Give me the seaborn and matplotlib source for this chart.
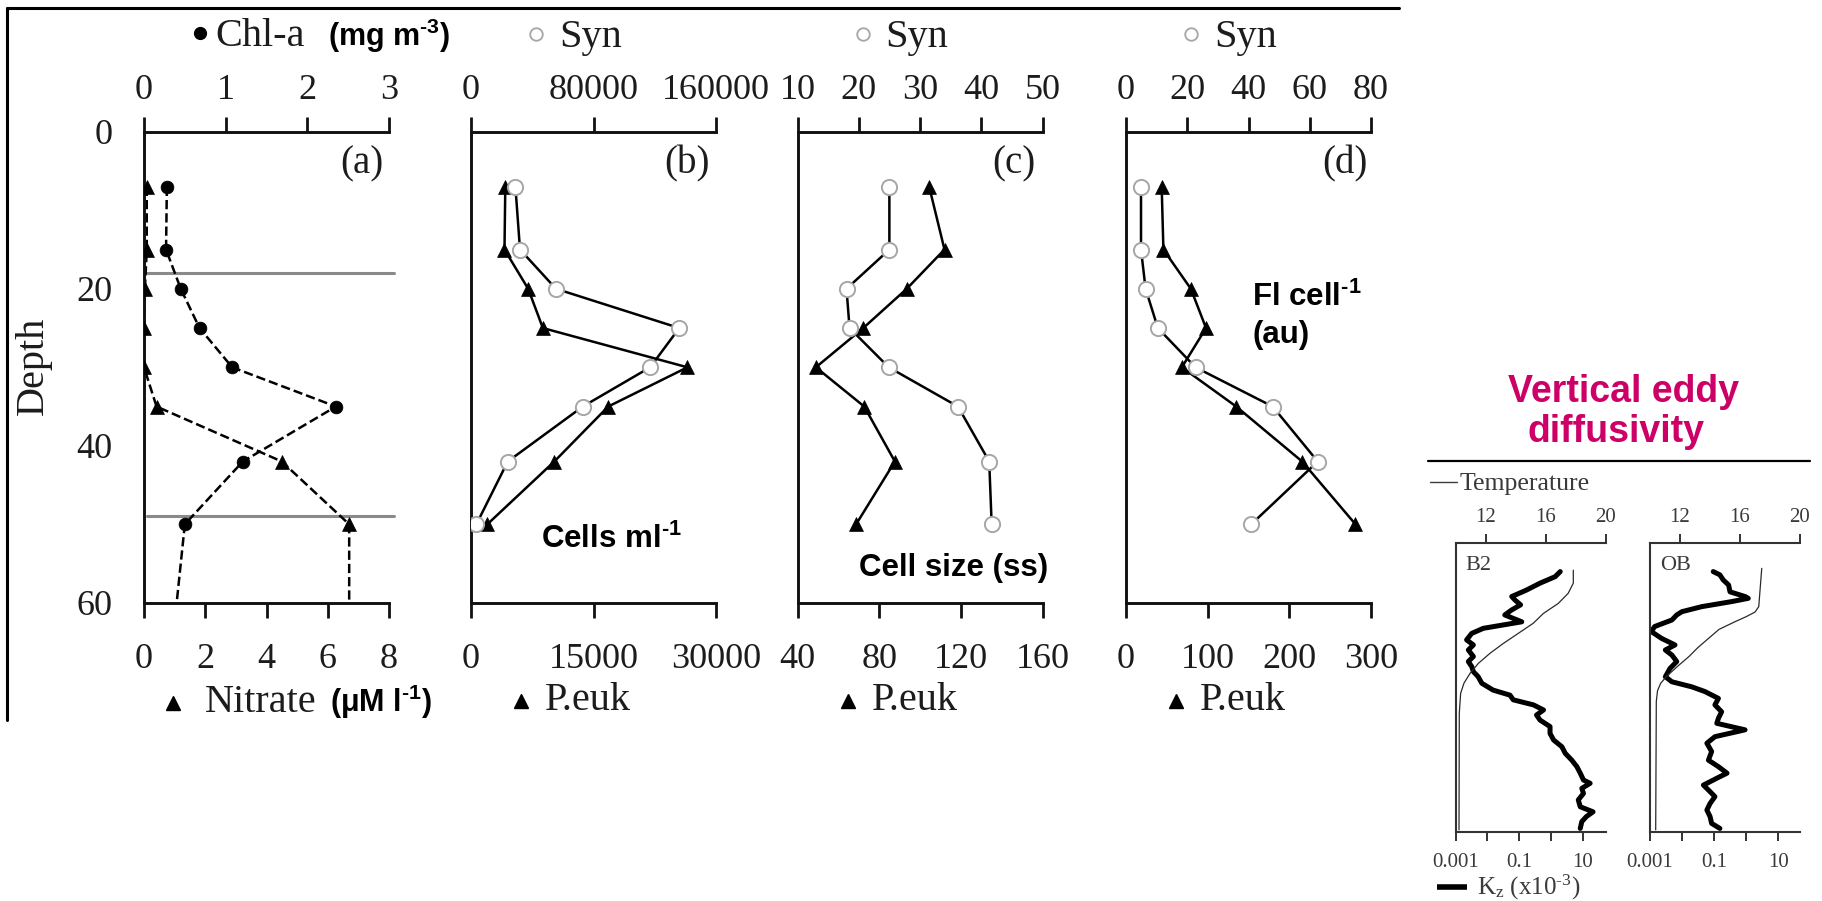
import matplotlib
matplotlib.use("Agg")
import matplotlib.pyplot as plt
from matplotlib.lines import Line2D
import numpy as np
import seaborn as sns

# ---------------------------------------------------------------------------
# Data
# ---------------------------------------------------------------------------
# Sampling depths (m) for the flow-cytometry / pigment profiles
depth = [7, 15, 20, 25, 30, 35, 42, 50]
# Panel (a): chlorophyll and nitrate (last value at 60 m carries the line to the bottom)
depth_a = [7, 15, 20, 25, 30, 35, 42, 50, 60]
chl_a = [0.28, 0.27, 0.45, 0.68, 1.08, 2.35, 1.21, 0.50, 0.40]
nitrate = [0.09, 0.09, 0.03, 0.0, 0.0, 0.41, 4.5, 6.7, 6.7]
mixing_depths = [18, 49]

# Panel (b): abundance (cells ml-1)
syn_cells = [29000, 32000, 55500, 136000, 117000, 73000, 24000, 3500]
peuk_cells = [4200, 4100, 7000, 8800, 26500, 16800, 10200, 2000]

# Panel (c): cell size (side scatter)
syn_size = [25.0, 25.0, 18.0, 18.5, 24.9, 36.2, 41.3, 41.7]
peuk_size = [104.5, 112.0, 93.5, 72.2, 49.0, 72.7, 87.7, 68.7]

# Panel (d): fluorescence per cell (au)
syn_fl = [4.9, 4.9, 6.4, 10.4, 22.7, 47.9, 62.6, 40.9]
peuk_fl = [43.7, 45.8, 79.4, 98.0, 68.4, 135.0, 215.7, 281.0]

# Axis ranges / ticks of the four profile panels
top_ticks = [[0, 1, 2, 3], [0, 80000, 160000], [10, 20, 30, 40, 50], [0, 20, 40, 60, 80]]
bottom_ticks = [[0, 2, 4, 6, 8], [0, 15000, 30000], [40, 80, 120, 160], [0, 100, 200, 300]]
panel_tags = ["(a)", "(b)", "(c)", "(d)"]
depth_ticks = [0, 20, 40, 60]

# Vertical eddy diffusivity profiles (Kz, x10^-3) and temperature, stations B2 and OB
kz_depth_b2 = [8.0, 9.4, 11.2, 13.1, 14.9, 15.9, 17.2, 18.6, 20.0, 21.9, 23.7, 25.1,
               26.9, 28.3, 29.7, 31.5, 32.9, 34.3, 35.7, 37.1, 38.9, 40.8, 42.2, 43.5,
               44.9, 46.3, 47.7, 49.1, 50.9, 52.8, 54.6, 56.5, 58.3, 60.2, 62.0, 63.8,
               65.7, 66.6, 68.0, 69.4, 71.2, 73.1, 74.5, 75.8, 77.2, 79.1]
kz_b2 = [1.95, 1.35, 0.45, 0.17, 0.058, 0.074, 0.11, 0.058, 0.035, 0.12, 0.0074, 0.0032,
         0.0022, 0.0036, 0.0025, 0.0036, 0.0025, 0.0032, 0.0036, 0.0051, 0.0066, 0.015,
         0.051, 0.065, 0.28, 0.58, 0.35, 0.45, 0.93, 0.93, 1.2, 2.2, 2.8, 4.5, 6.5, 8.3,
         10.5, 17.0, 9.3, 10.5, 7.2, 8.3, 21.0, 13.0, 9.3, 8.3]
kz_depth_ob = [8.0, 8.9, 10.3, 11.7, 13.6, 14.9, 15.4, 16.3, 17.7, 19.1, 20.0, 21.4,
               23.2, 24.6, 26.5, 28.3, 29.7, 31.1, 32.9, 34.8, 37.1, 38.5, 39.9, 41.2,
               43.1, 44.9, 46.8, 48.6, 50.0, 51.8, 53.7, 55.5, 57.8, 60.2, 62.0, 63.8,
               65.2, 67.1, 68.9, 70.3, 72.2, 74.0, 75.8, 77.7, 79.1]
kz_ob = [0.093, 0.15, 0.19, 0.28, 0.31, 0.91, 1.15, 0.35, 0.041, 0.0098, 0.0068, 0.0048,
         0.0014, 0.0011, 0.0023, 0.006, 0.003, 0.0048, 0.0068, 0.0042, 0.003, 0.0048,
         0.02, 0.051, 0.135, 0.105, 0.17, 0.135, 0.12, 0.91, 0.105, 0.059, 0.083, 0.066,
         0.135, 0.25, 0.12, 0.046, 0.074, 0.105, 0.074, 0.059, 0.074, 0.083, 0.15]
temp_depth_b2 = [7.6, 11.2, 14.0, 16.8, 19.6, 22.3, 25.1, 27.9, 30.6, 33.4, 36.2, 38.9,
                 41.7, 47.2, 79.5]
temp_b2 = [17.84, 17.84, 17.5, 16.84, 15.84, 15.17, 14.17, 13.17, 12.29, 11.51, 10.95,
           10.55, 10.33, 10.24, 10.22]
temp_depth_ob = [7.1, 17.7, 19.2, 20.5, 22.0, 24.0, 26.5, 29.0, 31.5, 34.0, 37.0, 39.0,
                 41.0, 44.0, 79.5]
temp_ob = [17.45, 17.25, 17.0, 16.4, 15.6, 14.6, 13.9, 13.2, 12.6, 11.9, 11.1, 10.7,
           10.5, 10.42, 10.38]
kz_ticks = [1e-3, 1e-2, 1e-1, 1, 10]
kz_tick_labels = ["0.001", "", "0.1", "", "10"]
temp_ticks = [12, 16, 20]
station_names = ["B2", "OB"]

# ---------------------------------------------------------------------------
# Style
# ---------------------------------------------------------------------------
sns.set_style("white")
plt.rcParams.update({
    "font.family": ["Liberation Serif", "DejaVu Serif"],
    "mathtext.default": "regular",
    "axes.linewidth": 2.0,
})
SERIF = ["Liberation Serif", "DejaVu Serif"]
SANS = ["Liberation Sans", "DejaVu Sans"]
INK = "#1c1c1c"
GREY_EDGE = "#a6a6a6"
MAGENTA = "#CC0066"
HY = "\u2010"  # short hyphen for the unit exponents

W, H = 1822, 901
fig = plt.figure(figsize=(W / 100, H / 100), dpi=100)
fig.patch.set_facecolor("white")


def fx(x):
    return x / W


def fy(y):
    return 1 - y / H


def box(left, top, right, bottom):
    return [fx(left), fy(bottom), (right - left) / W, (bottom - top) / H]


def fig_line(xs, ys, **kw):
    fig.add_artist(Line2D([fx(v) for v in xs], [fy(v) for v in ys],
                          transform=fig.transFigure, **kw))


def fig_marker(x, y, **kw):
    fig.add_artist(Line2D([fx(x)], [fy(y)], transform=fig.transFigure,
                          linestyle="none", **kw))


def fig_text(x, y, s, **kw):
    fig.text(fx(x), fy(y), s, **kw)


# ---------------------------------------------------------------------------
# Four depth-profile panels
# ---------------------------------------------------------------------------
panel_left = [144, 471, 797.5, 1126]
panel_w = 245
panel_top, panel_bottom = 131.8, 602.8

top_series = [chl_a, syn_cells, syn_size, syn_fl]
bottom_series = [nitrate, peuk_cells, peuk_size, peuk_fl]
tag_right = [383, 710, 1035, 1368]

for i, left in enumerate(panel_left):
    ax = fig.add_axes(box(left, panel_top, left + panel_w, panel_bottom))
    axt = ax.twiny()

    if i == 0:
        # dashed chlorophyll / nitrate profiles, markers at the sampled depths
        sns.lineplot(x=nitrate, y=depth_a, ax=ax, orient="y", estimator=None,
                     color="black", linestyle="--", linewidth=1.8)
        sns.scatterplot(x=nitrate[:-1], y=depth_a[:-1], ax=ax, marker="^", s=100,
                        color="black", edgecolor="black", linewidth=0.5, zorder=4)
        sns.lineplot(x=chl_a, y=depth_a, ax=axt, orient="y", estimator=None,
                     color="black", linestyle="--", linewidth=1.8)
        sns.scatterplot(x=chl_a[:-1], y=depth_a[:-1], ax=axt, marker="o", s=85,
                        color="black", edgecolor="black", linewidth=0.5, zorder=4)
        for d in mixing_depths:
            ax.axhline(d, xmin=0.012, xmax=1.02, color="#8a8a8a", linewidth=2.2,
                       clip_on=False, zorder=1)
    else:
        sns.lineplot(x=bottom_series[i], y=depth, ax=ax, orient="y", estimator=None,
                     color="black", linewidth=1.8)
        sns.scatterplot(x=bottom_series[i], y=depth, ax=ax, marker="^", s=100,
                        color="black", edgecolor="black", linewidth=0.5, zorder=4)
        sns.lineplot(x=top_series[i], y=depth, ax=axt, orient="y", estimator=None,
                     color="black", linewidth=1.8)
        sns.scatterplot(x=top_series[i], y=depth, ax=axt, marker="o", s=120,
                        color="white", edgecolor=GREY_EDGE, linewidth=1.4, zorder=4)

    bt, tt = bottom_ticks[i], top_ticks[i]
    ax.set_xlim(bt[0], bt[-1])
    axt.set_xlim(tt[0], tt[-1])
    ax.set_ylim(60, 0)
    ax.set_xticks(bt)
    ax.set_xticklabels([str(v) for v in bt])
    axt.set_xticks(tt)
    axt.set_xticklabels([str(v) for v in tt])
    ax.set_yticks(depth_ticks)
    ax.set_yticklabels([str(v) for v in depth_ticks])
    for a in (ax, axt):
        a.set_xlabel("")
        a.set_ylabel("")
        a.set_facecolor("none")

    for s in ("top", "right"):
        ax.spines[s].set_visible(False)
    for s in ("left", "bottom"):
        ax.spines[s].set_linewidth(2.1)
        ax.spines[s].set_color("#111111")
    for s in ("left", "right", "bottom"):
        axt.spines[s].set_visible(False)
    axt.spines["top"].set_linewidth(2.1)
    axt.spines["top"].set_color("#111111")

    ax.tick_params(axis="x", direction="out", length=10.5, width=2.0, pad=18.5,
                   labelsize=26, labelcolor=INK, color="#111111")
    ax.tick_params(axis="y", direction="out", length=12.2, width=2.0, pad=10.5,
                   labelsize=26, labelcolor=INK, color="#111111", labelleft=(i == 0))
    axt.tick_params(axis="x", direction="out", length=10.5, width=2.0, pad=7,
                    labelsize=26, labelcolor=INK, color="#111111")

    fig_text(tag_right[i], 173, panel_tags[i], ha="right", va="baseline",
             fontsize=28, family=SERIF, color=INK)

# Depth label
fig_text(33, 366, "Depth", rotation=90, ha="center", va="center", fontsize=29,
         family=SERIF, color=INK)

# Top keys
fig_marker(200, 33, marker="o", markersize=8.5, color="black")
fig_text(215, 46, "Chl-a", ha="left", va="baseline", fontsize=29, family=SERIF, color=INK)
fig_text(328, 46, "(mg m$^{" + HY + "3}$)", ha="left", va="baseline", fontsize=22,
         family=SANS, weight="bold", color="black")
for left in panel_left[1:]:
    fig_marker(left + 65, 34, marker="o", markersize=9, markerfacecolor="white",
               markeredgecolor=GREY_EDGE, markeredgewidth=1.3)
    fig_text(left + 88, 47, "Syn", ha="left", va="baseline", fontsize=29,
             family=SERIF, color=INK)

# Bottom keys
fig_marker(173, 703, marker="^", markersize=10, color="black")
fig_text(205, 712, "Nitrate", ha="left", va="baseline", fontsize=29, family=SERIF, color=INK)
fig_text(330, 712, "(μM l$^{" + HY + "1}$)", ha="left", va="baseline", fontsize=22,
         family=SANS, weight="bold", color="black")
for left in panel_left[1:]:
    fig_marker(left + 50, 701, marker="^", markersize=10, color="black")
    fig_text(left + 74, 710, "P.euk", ha="left", va="baseline", fontsize=29,
             family=SERIF, color=INK)

# Variable annotations
bold = dict(ha="left", va="baseline", fontsize=22.5, family=SANS, weight="bold", color="black")
fig_text(541, 548, "Cells ml$^{" + HY + "1}$", **bold)
fig_text(859, 576, "Cell size (ss)", **bold)
fig_text(1252, 306, "Fl cell$^{" + HY + "1}$", **bold)
fig_text(1252, 343, "(au)", **bold)

# Frame around the profile block
fig_line([7, 1399], [7.5, 7.5], color="black", linewidth=2.2)
fig_line([7, 7], [7.5, 720], color="black", linewidth=2.2)

# ---------------------------------------------------------------------------
# Vertical eddy diffusivity inset panels
# ---------------------------------------------------------------------------
fig_text(1623, 401.7, "Vertical eddy", ha="center", va="baseline", fontsize=27,
         family=SANS, weight="bold", color=MAGENTA)
fig_text(1616, 441.7, "diffusivity", ha="center", va="baseline", fontsize=27,
         family=SANS, weight="bold", color=MAGENTA)
fig_line([1428, 1810], [461, 461], color="black", linewidth=1.6)

SMALL_INK = "#3a3a3a"
fig_line([1430, 1457], [482.5, 482.5], color=SMALL_INK, linewidth=1.0)
fig_text(1460, 490, "Temperature", ha="left", va="baseline", fontsize=18.5,
         family=SERIF, color=SMALL_INK)
fig_line([1437, 1467], [887, 887], color="black", linewidth=4.0, solid_capstyle="butt")
fig_text(1477, 895, "K$_{z}$ (x10$^{" + HY + "3}$)", ha="left", va="baseline", fontsize=18,
         family=SERIF, color=SMALL_INK)

small_left = [1455.7, 1650]
kz_max = [10 ** 1.72, 10 ** 1.67]
kz_sets = [(kz_b2, kz_depth_b2), (kz_ob, kz_depth_ob)]
temp_sets = [(temp_b2, temp_depth_b2), (temp_ob, temp_depth_ob)]

for j, left in enumerate(small_left):
    ax = fig.add_axes(box(left, 542.7, left + 150, 831.7))
    axt = ax.twiny()
    kz, kd = kz_sets[j]
    tv, td = temp_sets[j]
    sns.lineplot(x=kz, y=kd, ax=ax, orient="y", estimator=None, color="black",
                 linewidth=3.6, solid_joinstyle="round", solid_capstyle="round")
    sns.lineplot(x=tv, y=td, ax=axt, orient="y", estimator=None, color="#2a2a2a",
                 linewidth=0.9)
    ax.set_xscale("log")
    ax.set_xlim(1e-3, kz_max[j])
    axt.set_xlim(10, 20)
    ax.set_ylim(80, 0)
    ax.set_xticks(kz_ticks)
    ax.set_xticklabels(kz_tick_labels)
    ax.xaxis.set_minor_locator(matplotlib.ticker.NullLocator())
    axt.set_xticks(temp_ticks)
    axt.set_xticklabels([str(v) for v in temp_ticks])
    ax.set_yticks([0, 20, 40, 60, 80])
    for a in (ax, axt):
        a.set_xlabel("")
        a.set_ylabel("")
        a.set_facecolor("none")
    for s in ("top", "right"):
        ax.spines[s].set_visible(False)
    for s in ("left", "right", "bottom"):
        axt.spines[s].set_visible(False)
    for sp in (ax.spines["left"], ax.spines["bottom"], axt.spines["top"]):
        sp.set_linewidth(1.5)
        sp.set_color("#333333")
    ax.tick_params(axis="x", direction="out", length=6.5, width=1.4, pad=8.5,
                   labelsize=15, labelcolor=SMALL_INK, color="#333333")
    ax.tick_params(axis="y", direction="out", length=7.5, width=1.4,
                   labelleft=False, color="#333333")
    axt.tick_params(axis="x", direction="out", length=6.5, width=1.4, pad=5,
                    labelsize=15, labelcolor=SMALL_INK, color="#333333")
    fig_text(left + 10, 570, station_names[j], ha="left", va="baseline", fontsize=16,
             family=SERIF, color=SMALL_INK)

fig.savefig("out.png", dpi=100, facecolor="white")
